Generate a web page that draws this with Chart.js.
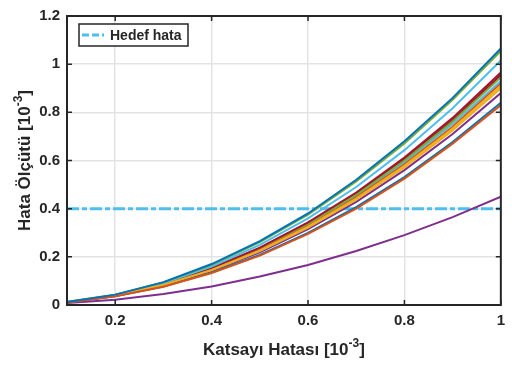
<!DOCTYPE html>
<html>
<head>
<meta charset="utf-8">
<script src="https://cdn.jsdelivr.net/npm/chart.js@4/dist/chart.umd.min.js"></script>
<style>
  html, body { margin: 0; padding: 0; background: #fff; }
  canvas { display: block; }
</style>
</head>
<body>
<canvas id="errChart" width="512" height="367"></canvas>
<script>
// x positions (katsayı hatası, 10^-3)
const xValues = [0.1, 0.2, 0.3, 0.4, 0.5, 0.6, 0.7, 0.8, 0.9, 1.0];
const xTicks = [0.2, 0.4, 0.6, 0.8, 1];
const yTicks = [0, 0.2, 0.4, 0.6, 0.8, 1, 1.2];

// error curves
const s1 = [0.012, 0.043, 0.095, 0.170, 0.265, 0.380, 0.520, 0.680, 0.860, 1.065];
const s2 = [0.010, 0.036, 0.076, 0.133, 0.205, 0.295, 0.400, 0.525, 0.670, 0.830];
const s3 = [0.011, 0.038, 0.083, 0.146, 0.226, 0.325, 0.442, 0.578, 0.733, 0.910];
const s4 = [0.008, 0.022, 0.046, 0.077, 0.118, 0.166, 0.224, 0.290, 0.365, 0.450];
const s5 = [0.013, 0.043, 0.094, 0.167, 0.261, 0.375, 0.513, 0.671, 0.852, 1.055];
const s6 = [0.012, 0.041, 0.090, 0.160, 0.250, 0.360, 0.490, 0.643, 0.817, 1.015];
const s7 = [0.011, 0.040, 0.087, 0.153, 0.238, 0.343, 0.467, 0.612, 0.777, 0.965];
const s8 = [0.010, 0.036, 0.077, 0.135, 0.208, 0.299, 0.406, 0.531, 0.677, 0.840];
const s9 = [0.011, 0.038, 0.083, 0.147, 0.228, 0.328, 0.447, 0.584, 0.740, 0.920];
const s10 = [0.011, 0.038, 0.082, 0.144, 0.224, 0.321, 0.437, 0.571, 0.725, 0.900];
const s11 = [0.011, 0.037, 0.081, 0.141, 0.219, 0.315, 0.428, 0.560, 0.710, 0.880];
const s12 = [0.011, 0.039, 0.085, 0.150, 0.234, 0.337, 0.458, 0.600, 0.762, 0.945];
const s13 = [0.011, 0.039, 0.084, 0.149, 0.231, 0.333, 0.453, 0.593, 0.752, 0.930];
const s14 = [0.011, 0.039, 0.086, 0.152, 0.236, 0.340, 0.462, 0.605, 0.768, 0.955];
const curves = [s1, s2, s3, s4, s5, s6, s7, s8, s9, s10, s11, s12, s13, s14];

// target level (hedef hata)
const targetLabel = "Hedef hata";
const targetLevel = 0.4;
const targetX = [0.1, 1.0];

const matlabColors = ["#0072BD", "#D95319", "#EDB120", "#7E2F8E", "#77AC30", "#4DBEEE", "#A2142F"];
const axisColor = "#262626";
const fontFamily = "'Liberation Sans', Arial, Helvetica, sans-serif";

const curveSets = curves.map((vals, i) => ({
    label: "Eğri " + (i + 1),
    data: vals.map((v, j) => ({ x: xValues[j], y: v })),
    borderColor: matlabColors[i % matlabColors.length],
    borderWidth: 2,
    pointRadius: 0,
    tension: 0,
    fill: false,
}));

const targetSet = {
    label: targetLabel,
    data: targetX.map((x) => ({ x: x, y: targetLevel })),
    borderColor: "#4DBEEE",
    borderWidth: 3,
    borderDash: [12, 3, 5, 3],
    pointRadius: 0,
    fill: false,
};

// draws text with a raised "-3" exponent, centred on cx
function drawSupLabel(ctx, base, sup, tail, cx, cy, size) {
    const bigFont = "bold " + size + "px " + fontFamily;
    const smallFont = "bold " + Math.round(size * 0.72) + "px " + fontFamily;
    ctx.font = bigFont;
    const w1 = ctx.measureText(base).width;
    const w3 = ctx.measureText(tail).width;
    ctx.font = smallFont;
    const w2 = ctx.measureText(sup).width;
    let x = cx - (w1 + w2 + w3) / 2;
    ctx.textAlign = "left";
    ctx.textBaseline = "alphabetic";
    ctx.font = bigFont;
    ctx.fillText(base, x, cy);
    x += w1;
    ctx.font = smallFont;
    ctx.fillText(sup, x, cy - size * 0.45);
    x += w2;
    ctx.font = bigFont;
    ctx.fillText(tail, x, cy);
}

const matlabFrame = {
    id: "matlabFrame",
    afterDatasetsDraw(chart) {
        const ctx = chart.ctx;
        const a = chart.chartArea;
        const xs = chart.scales.x;
        const ys = chart.scales.y;
        ctx.save();

        // box
        ctx.strokeStyle = axisColor;
        ctx.lineWidth = 2;
        ctx.strokeRect(a.left, a.top, a.right - a.left, a.bottom - a.top);

        // inward tick marks on all sides
        ctx.lineWidth = 1.5;
        const tl = 5;
        ctx.beginPath();
        xTicks.forEach((t) => {
            const px = xs.getPixelForValue(t);
            ctx.moveTo(px, a.bottom);
            ctx.lineTo(px, a.bottom - tl);
            ctx.moveTo(px, a.top);
            ctx.lineTo(px, a.top + tl);
        });
        yTicks.forEach((t) => {
            const py = ys.getPixelForValue(t);
            ctx.moveTo(a.left, py);
            ctx.lineTo(a.left + tl, py);
            ctx.moveTo(a.right, py);
            ctx.lineTo(a.right - tl, py);
        });
        ctx.stroke();

        // legend box
        const lx = 79, ly = 24, lw = 109, lh = 22;
        ctx.fillStyle = "#fff";
        ctx.fillRect(lx, ly, lw, lh);
        ctx.strokeStyle = axisColor;
        ctx.lineWidth = 1.5;
        ctx.strokeRect(lx, ly, lw, lh);
        ctx.strokeStyle = targetSet.borderColor;
        ctx.lineWidth = 3;
        ctx.setLineDash([7, 3]);
        ctx.beginPath();
        ctx.moveTo(lx + 3, ly + lh / 2);
        ctx.lineTo(lx + 25, ly + lh / 2);
        ctx.stroke();
        ctx.setLineDash([]);
        ctx.fillStyle = axisColor;
        ctx.font = "bold 14px " + fontFamily;
        ctx.textAlign = "left";
        ctx.textBaseline = "middle";
        ctx.fillText(targetLabel, lx + 31, ly + lh / 2 + 1);

        // axis titles
        ctx.fillStyle = axisColor;
        drawSupLabel(ctx, "Katsayı Hatası [10", "-3", "]", (a.left + a.right) / 2, 355, 17);
        ctx.translate(30, (a.top + a.bottom) / 2);
        ctx.rotate(-Math.PI / 2);
        drawSupLabel(ctx, "Hata Ölçütü [10", "-3", "]", 0, 0, 17);
        ctx.restore();
    },
};

new Chart(document.getElementById("errChart"), {
    type: "line",
    data: { datasets: curveSets.concat([targetSet]) },
    options: {
        responsive: false,
        animation: false,
        layout: { padding: { left: 0, top: 9, right: 8, bottom: 0 } },
        plugins: {
            legend: { display: false },
            tooltip: { enabled: false },
        },
        scales: {
            x: {
                type: "linear",
                min: 0.1,
                max: 1,
                afterBuildTicks: (scale) => {
                    scale.ticks = xTicks.map((v) => ({ value: v }));
                },
                afterFit: (scale) => {
                    scale.height = 62;
                },
                ticks: {
                    color: axisColor,
                    padding: 7,
                    maxRotation: 0,
                    font: { family: fontFamily, size: 15, weight: "bold" },
                    callback: (v) => String(v),
                },
                grid: { color: "#e3e3e3", lineWidth: 1.5, drawTicks: false },
                border: { display: false },
            },
            y: {
                type: "linear",
                min: 0,
                max: 1.2,
                afterBuildTicks: (scale) => {
                    scale.ticks = yTicks.map((v) => ({ value: v }));
                },
                afterFit: (scale) => {
                    scale.width = 67;
                },
                ticks: {
                    color: axisColor,
                    padding: 7,
                    font: { family: fontFamily, size: 15, weight: "bold" },
                    callback: (v) => String(v),
                },
                grid: { color: "#e3e3e3", lineWidth: 1.5, drawTicks: false },
                border: { display: false },
            },
        },
    },
    plugins: [matlabFrame],
});
</script>
</body>
</html>
